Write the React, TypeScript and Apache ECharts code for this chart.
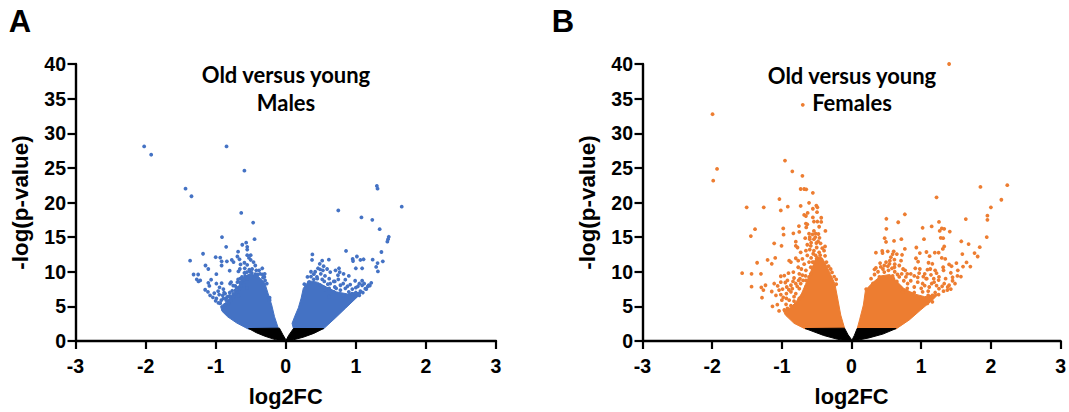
import React, { useEffect, useRef } from "react";
import * as echarts from "echarts";

const BLUE = "#4472C4";
const ORANGE = "#ED7D31";

const xTicks = [-3, -2, -1, 0, 1, 2, 3];
const yTicks = [0, 5, 10, 15, 20, 25, 30, 35, 40];

// Individually readable points (log2FC, -log p).
const malePointsLeft = [
  [-2.02,28.1],[-1.92,26.9],[-0.845,28.1],[-0.59,24.6],[-1.43,22.0],[-1.345,20.9],[-0.635,18.5],[-0.465,17.1],
  [-0.91,15.0],[-0.445,14.7],[-0.85,13.6],[-0.62,13.9],[-0.565,14.2],[-0.55,13.6],[-0.55,13.2],[-0.68,12.9],
  [-1.18,12.6],[-1.0,12.1],[-0.935,12.05],[-0.69,12.2],[-0.55,12.4],[-0.5,12.4],[-0.915,11.5],[-0.84,11.5],
  [-0.77,11.7],[-0.745,11.4],[-0.66,11.8],[-0.525,12.0],[-0.5,11.7],[-1.365,11.6],[-1.145,10.9],[-1.105,10.4],
  [-0.915,10.9],[-0.645,11.05],[-0.59,11.3],[-0.55,11.0],[-0.46,11.4],[-0.435,10.9],[-0.675,10.05],[-0.655,10.4],
  [-0.585,10.5],[-0.8,10.15],[-0.335,10.5],[-0.99,9.65],[-1.315,9.6],[-1.25,9.6],[-1.27,8.9],[-1.245,8.6],
  [-1.22,8.75],[-1.065,8.85],[-1.105,8.4],[-1.09,7.95],[-0.99,8.3],[-0.915,8.35],[-0.945,7.75],[-0.795,8.3],
  [-0.78,8.5],[-0.69,8.5],[-0.72,7.95],[-1.15,7.4],[-1.11,7.1],[-0.965,7.2],[-0.89,7.5],[-0.765,7.25],
  [-1.08,6.6],[-1.04,6.3],[-0.99,6.15],[-0.865,6.85],[-0.83,6.4],[-0.935,5.45],[-0.625,9.25],[-0.59,9.85],
  [-0.555,9.95],[-0.515,10.05],[-0.485,9.85],[-0.435,9.65],[-0.4,9.6],[-0.365,9.7],[-0.325,9.15],[-0.295,8.75],
  [-0.27,8.3],[-0.305,9.25],[-0.65,9.0],[-0.65,8.45],[-0.6,8.05],[-0.555,7.65],[-0.7,7.1],[-0.675,6.6],
  [-0.745,6.4],[-0.79,5.9],[-0.815,5.45],[-0.89,6.15],[-0.865,5.2],[-0.23,6.25],[-0.23,5.9],
  [-1.0,5.8],[-0.96,5.5],[-1.02,6.9],[-0.95,6.7],[-0.9,6.6],[-0.85,6.2],[-0.8,7.0],[-0.75,6.8],
  [-0.7,7.7],[-0.75,8.0],[-0.68,8.9],[-0.62,8.7],[-0.58,9.4],[-0.52,10.3],[-0.48,10.4],[-0.42,10.2],
  [-0.38,10.2],[-0.33,9.6],[-0.3,9.7],[-0.85,5.9],[-0.92,5.9],[-0.88,7.0],[-0.8,6.5],[-0.72,7.3],
  [-0.66,7.6],[-0.6,8.9],[-0.55,9.0],
];
const malePointsRight = [
  [1.3,22.4],[1.31,22.0],[1.655,19.4],[0.75,18.85],[1.08,17.85],[1.235,17.5],[1.34,16.15],[1.47,15.05],
  [1.46,14.7],[1.45,14.35],[0.86,13.0],[1.365,12.85],[0.38,12.5],[0.375,11.7],[0.52,11.6],[0.615,11.75],
  [1.015,12.2],[0.955,11.85],[0.96,11.55],[1.065,11.7],[1.11,11.8],[1.24,11.75],[1.385,11.5],[1.31,11.25],
  [1.29,10.7],[1.315,10.05],[1.0,10.5],[1.09,10.5],[0.485,11.15],[0.54,10.8],[0.46,10.5],[0.49,10.35],
  [0.53,10.2],[0.59,10.4],[0.635,9.95],[0.71,10.2],[0.76,10.5],[0.77,9.95],[0.745,9.5],[0.825,9.7],
  [0.9,9.4],[0.4,9.65],[0.31,9.25],[0.445,9.25],[0.52,8.9],[0.4,8.9],[0.33,8.5],[0.265,8.2],
  [0.49,8.05],[0.635,8.3],[0.685,8.6],[0.78,8.05],[0.85,8.85],[0.92,8.15],[0.99,8.7],[1.09,8.7],
  [1.22,8.4],[1.185,8.05],[1.09,8.05],[1.03,7.9],[1.135,7.55],[0.945,6.85],[0.78,7.35],[0.685,7.1],
  [0.565,7.35],[0.615,6.4],[0.825,6.6],[1.065,7.2],[0.995,6.4],
  [1.05,6.6],[1.1,7.0],[1.15,7.5],[1.2,8.0],[1.0,7.0],[0.9,7.1],[0.85,7.6],[0.95,7.5],
  [0.7,7.8],[0.6,8.2],[0.55,8.6],[0.45,9.0],[0.36,9.3],[0.36,10.0],[0.42,10.0],[0.5,9.7],
  [0.56,9.4],[0.62,9.0],[0.7,8.6],[0.75,8.9],[0.82,8.3],[0.88,7.9],[1.0,7.7],[1.05,8.3],
  [1.12,8.3],[1.17,7.9],[0.55,7.7],[0.62,7.6],[0.72,7.6],
];
const femalePointsLeft = [
  [-1.995,32.75],[-1.93,24.85],[-1.985,23.15],[-0.955,26.05],[-0.85,24.5],[-0.705,23.85],[-0.73,21.95],[-0.68,21.95],
  [-0.65,21.9],[-0.555,21.4],[-1.035,20.5],[-1.505,19.3],[-1.26,19.3],[-1.015,18.85],[-0.915,19.4],[-0.73,19.5],
  [-0.61,19.95],[-0.505,19.55],[-0.49,19.3],[-0.555,19.1],[-0.495,18.6],[-0.63,18.5],[-0.68,18.2],[-0.655,18.05],
  [-0.555,17.85],[-0.435,17.8],[-0.54,17.25],[-0.49,17.25],[-0.435,17.2],[-0.465,16.5],[-0.655,16.95],[-0.635,16.85],
  [-0.65,16.4],[-0.755,16.6],[-0.75,15.75],[-0.835,15.55],[-0.98,16.25],[-0.975,15.35],[-1.385,16.15],[-1.445,15.15],
  [-0.375,15.9],[-0.61,15.5],[-0.54,15.9],[-0.515,15.5],[-0.475,15.45],[-0.56,15.4],[-0.665,14.85],[-0.6,14.7],
  [-0.54,14.7],[-1.11,14.1],[-1.005,13.75],[-0.8,14.35],[-0.8,13.75],[-0.775,13.5],[-0.635,13.9],[-0.585,13.75],
  [-0.505,14.15],[-0.445,14.1],[-0.38,13.65],[-0.655,13.05],[-0.54,13.05],[-0.465,12.8],[-0.395,13.05],[-0.73,12.8],
  [-0.635,12.35],[-0.515,12.35],[-1.095,12.0],[-1.205,11.7],[-1.145,11.15],[-1.355,11.3],[-0.895,11.6],[-0.87,11.4],
  [-0.8,11.95],[-0.765,11.6],[-0.765,10.65],[-0.705,11.85],[-0.56,11.4],[-1.57,9.8],[-1.435,9.7],[-1.3,9.7],
  [-1.435,7.85],[-1.295,7.75],[-1.235,8.05],[-1.265,7.35],[-1.285,6.25],[-1.145,7.15],[-1.11,8.3],[-1.06,7.95],
  [-1.015,9.35],[-0.965,9.45],[-0.905,9.8],[-0.835,9.95],[-0.75,9.7],[-1.015,8.5],[-0.92,8.75],[-0.825,9.1],
  [-0.76,8.75],[-0.655,10.2],[-0.585,9.7],[-0.695,8.75],[-1.085,6.6],[-1.015,6.7],[-1.135,5.0],[-1.065,5.25],
  [-1.0,5.9],[-0.935,6.85],[-0.85,7.55],[-0.895,5.9],[-0.825,6.4],[-1.04,4.35],[-0.965,4.5],[-0.75,7.55],
  [-0.655,7.8],[-0.99,7.5],[-0.93,7.8],
  [-0.92,4.7],[-0.87,5.1],[-0.94,5.3],[-0.825,5.75],[-0.75,6.15],[-0.705,6.6],[-0.8,6.85],[-0.87,7.1],
  [-0.935,6.15],[-0.73,8.3],[-0.655,8.75],[-0.61,9.25],[-0.705,9.5],[-0.8,8.3],[-0.87,8.05],[-0.95,8.45],
  [-1.04,7.35],[-0.585,10.65],[-0.61,11.4],[-0.54,11.4],[-0.58,12],[-0.5,11.9],[-0.55,12.6],[-0.45,12.4],
  [-0.6,13.2],[-0.5,13.5],[-0.42,13.4],[-0.58,14.2],[-0.48,14.4],[-0.52,15],[-0.46,14.9],[-0.6,15],
  [-0.45,11.8],[-0.38,12.3],[-0.36,11.4],[-0.33,10.8],[-0.3,10.4],[-0.28,9.9],[-0.25,9.3],[-0.22,8.9],
  [-0.22,8.2],[-0.72,10.4],[-0.68,11.1],[-0.66,9.4],[-0.74,9.0],[-0.78,7.9],[-0.84,8.6],[-0.9,7.4],[-0.98,6.3],
];
const femalePointsRight = [
  [1.85,22.25],[2.235,22.5],[1.22,20.75],[2.15,20.4],[2.0,19.3],[1.95,18.1],[1.95,17.5],[1.64,17.6],
  [0.765,18.3],[0.5,17.65],[0.67,17.15],[1.255,17.2],[0.5,16.2],[1.02,16.35],[1.15,16.55],[1.265,15.9],
  [1.295,16.25],[1.33,16.2],[1.41,15.8],[0.475,14.85],[0.495,14.3],[0.61,14.45],[0.715,14.7],[1.04,14.7],
  [1.28,14.9],[1.315,14.85],[1.94,15.0],[1.575,14.4],[1.68,14.0],[1.84,13.55],[1.33,13.65],[1.31,13.3],
  [0.765,13.3],[0.93,13.5],[0.35,12.75],[0.44,13.0],[0.445,12.7],[0.52,12.95],[0.605,12.95],[0.59,12.55],
  [0.65,12.55],[0.725,12.45],[0.98,12.7],[1.075,12.85],[1.195,12.75],[1.25,12.75],[1.59,12.55],[1.765,12.7],
  [1.81,12.2],[0.925,11.95],[0.955,11.45],[1.12,12.25],[1.105,11.3],[1.295,12.0],[1.345,11.85],[1.505,11.25],
  [1.65,11.35],[1.6,10.75],[1.705,10.75],[0.565,12.1],[0.615,11.75],[0.71,11.6],[0.495,11.4],[0.545,11.15],
  [0.41,11.25],[0.35,10.55],[0.33,10.35],[0.615,10.65],[0.685,10.9],[0.915,10.5],[0.77,10.2],[0.85,9.7],
  [0.97,9.8],[1.09,10.3],[1.13,10.4],[1.16,11.15],[1.315,10.65],[1.4,11.05],[1.435,10.8],[1.32,10.2],
  [1.425,9.85],[1.525,10.2],[1.57,9.3],[1.52,9.4],[1.255,9.25],[1.14,9.55],[1.07,9.0],[0.95,8.5],
  [1.02,8.3],[1.185,8.5],[1.33,8.3],[1.485,8.3],[1.4,8.05],[1.425,7.5],[1.375,7.35],[1.255,7.55],
  [1.115,7.8],[1.02,7.1],[0.9,7.8],[0.805,8.3],[0.685,9.25],[0.59,9.4],[0.78,9.25],[0.47,9.95],
  [0.4,9.25],[0.305,8.3],[0.21,7.5],[0.855,6.85],[0.735,7.1],[1.16,6.6],[0.995,6.15],[1.16,5.65],
  [1.09,5.45],
  [1.25,6.7],[1.32,7.2],[1.2,7.0],[1.1,6.6],[1.1,7.2],[1.0,7.6],[0.9,7.0],[0.8,7.6],
  [0.7,7.7],[0.65,8.6],[0.6,9.0],[0.75,8.7],[0.85,8.7],[0.95,9.2],[1.05,8.0],[1.15,8.3],
  [1.22,8.0],[1.3,7.9],[1.38,7.8],[1.45,8.7],[1.35,9.0],[1.25,8.8],[1.18,9.0],[1.45,9.2],
  [1.05,9.7],[0.9,9.4],[0.8,9.7],[0.72,9.7],[0.62,10],[0.53,10.2],[0.45,10.4],[0.38,10.0],
  [0.33,9.6],[0.28,9.0],[0.52,10.8],[0.42,10.7],[0.55,11.6],[0.47,10.9],[0.62,11.1],[0.58,10.5],
  [0.66,9.6],[0.74,10.4],[0.98,10.4],[1.03,9.3],[1.22,9.8],[1.2,10.2],[1.08,9.0],
];
const femaleTopPoints = [[1.4,40],[-0.7,34.1]];

// The overplotted cores are traced as outlines: their individual dots cannot be read from the picture.
const maleCoreLeft = [[-0.53,1.7],[-0.7,2.6],[-0.83,3.5],[-0.91,4.3],[-0.93,5.0],[-0.85,5.6],[-0.78,6.5],[-0.7,7.3],[-0.65,8.4],[-0.6,9.2],[-0.52,9.7],[-0.4,9.4],[-0.3,8.4],[-0.25,6.8],[-0.2,5.2],[-0.16,3.5],[-0.105,1.8]];
const maleCoreRight = [[0.11,1.76],[0.09,2.55],[0.13,3.6],[0.18,4.8],[0.22,6.2],[0.25,7.6],[0.33,8.7],[0.45,8.5],[0.58,7.8],[0.72,7.1],[0.88,6.8],[0.98,7.0],[1.08,7.0],[1.0,6.15],[0.85,4.7],[0.705,3.3],[0.54,1.76]];
const femaleCoreLeft = [[-0.665,1.75],[-0.825,2.55],[-0.95,3.75],[-0.98,4.4],[-0.88,4.8],[-0.8,5.6],[-0.72,6.8],[-0.66,8.2],[-0.6,9.6],[-0.55,11],[-0.5,12.2],[-0.42,12.0],[-0.36,10.9],[-0.3,9.6],[-0.24,8.3],[-0.2,6.2],[-0.155,3.75],[-0.1,1.85]];
const femaleCoreRight = [[0.08,1.75],[0.115,3.05],[0.17,5.2],[0.2,7.35],[0.3,8.4],[0.42,9.4],[0.55,9.6],[0.65,8.6],[0.75,7.6],[0.9,6.8],[1.05,6.4],[1.25,6.8],[1.16,5.9],[0.995,4.5],[0.83,3.05],[0.64,1.75]];
const maleBlackLeft = [[-0.53,1.8],[-0.09,1.85],[-0.04,0.9],[0,0.2],[-0.05,0],[-0.15,0.2],[-0.3,0.7],[-0.42,1.2]];
const maleBlackRight = [[0.11,1.8],[0.54,1.8],[0.4,1.1],[0.25,0.55],[0.1,0.15],[0,0],[0.04,0.8]];
const femaleBlackLeft = [[-0.665,1.8],[-0.1,1.85],[-0.05,0.9],[0,0.2],[-0.05,0],[-0.2,0.25],[-0.4,0.8]];
const femaleBlackRight = [[0.08,1.8],[0.64,1.8],[0.45,1.0],[0.25,0.45],[0.08,0.1],[0,0],[0.04,0.8]];

const axisFont = { fontFamily: "Liberation Sans", fontWeight: "bold" as const, color: "#000" };

function polygonSeries(idx: number, outline: number[][], color: string, z: number) {
  return {
    type: "custom",
    xAxisIndex: idx,
    yAxisIndex: idx,
    coordinateSystem: "cartesian2d",
    z,
    silent: true,
    data: [outline[0]],
    renderItem: (_p: any, api: any) => ({
      type: "polygon",
      shape: { points: outline.map((v) => api.coord(v)) },
      style: { fill: color, stroke: color, lineWidth: 1 },
    }),
  };
}

function scatterSeries(idx: number, data: number[][], color: string) {
  return {
    type: "scatter",
    xAxisIndex: idx,
    yAxisIndex: idx,
    symbol: "circle",
    symbolSize: 3.8,
    z: 3,
    silent: true,
    data,
    itemStyle: { color, opacity: 1 },
  };
}

function xAxis(gridIndex: number) {
  return {
    gridIndex,
    type: "value",
    min: xTicks[0],
    max: xTicks[xTicks.length - 1],
    interval: 1,
    splitLine: { show: false },
    axisLine: { show: true, onZero: false, lineStyle: { color: "#000", width: 2.4 } },
    axisTick: { show: true, length: 8, lineStyle: { color: "#000", width: 2.2 } },
    axisLabel: { ...axisFont, fontSize: 19.5, margin: 15, showMinLabel: true, showMaxLabel: true },
    name: "log2FC",
    nameLocation: "middle",
    nameGap: 44,
    nameTextStyle: { ...axisFont, fontSize: 21.8 },
  };
}

function yAxis(gridIndex: number) {
  return {
    gridIndex,
    type: "value",
    min: yTicks[0],
    max: yTicks[yTicks.length - 1],
    interval: 5,
    splitLine: { show: false },
    axisLine: { show: true, onZero: false, lineStyle: { color: "#000", width: 2.4 } },
    axisTick: { show: true, length: 8, lineStyle: { color: "#000", width: 2.2 } },
    axisLabel: { ...axisFont, fontSize: 19.5, margin: 9.5, showMinLabel: true, showMaxLabel: true },
    name: "-log(p-value)",
    nameLocation: "middle",
    nameGap: 44,
    nameTextStyle: { ...axisFont, fontSize: 22.4 },
  };
}

function label(text: string, x: number, y: number, font: string) {
  return {
    type: "text",
    x,
    y,
    style: { text, font, fill: "#000", textAlign: "center", textVerticalAlign: "middle" },
  };
}

export default function App() {
  const ref = useRef<HTMLDivElement>(null);
  useEffect(() => {
    document.body.style.margin = "0";
    const chart = echarts.init(ref.current!, null, { renderer: "svg" });
    const titleFont = "bold 22px Lato";
    const panelFont = "bold 31px 'Liberation Sans'";
    chart.setOption({
      animation: false,
      backgroundColor: "#fff",
      grid: [
        { left: 75.5, top: 64, width: 420.5, height: 280 },
        { left: 642.5, top: 64, width: 420, height: 280 },
      ],
      xAxis: [xAxis(0), xAxis(1)],
      yAxis: [yAxis(0), yAxis(1)],
      series: [
        polygonSeries(0, maleCoreLeft, BLUE, 2),
        polygonSeries(0, maleCoreRight, BLUE, 2),
        scatterSeries(0, malePointsLeft, BLUE),
        scatterSeries(0, malePointsRight, BLUE),
        polygonSeries(0, maleBlackLeft, "#000", 4),
        polygonSeries(0, maleBlackRight, "#000", 4),
        polygonSeries(1, femaleCoreLeft, ORANGE, 2),
        polygonSeries(1, femaleCoreRight, ORANGE, 2),
        scatterSeries(1, femalePointsLeft, ORANGE),
        scatterSeries(1, femalePointsRight, ORANGE),
        scatterSeries(1, femaleTopPoints, ORANGE),
        polygonSeries(1, femaleBlackLeft, "#000", 4),
        polygonSeries(1, femaleBlackRight, "#000", 4),
      ],
      graphic: [
        label("A", 20, 21, panelFont),
        label("B", 563, 21, panelFont),
        label("Old versus young", 286, 74, titleFont),
        label("Males", 286, 102, titleFont),
        label("Old versus young", 852, 75, titleFont),
        label("Females", 852, 102, titleFont),
      ],
    });
    return () => chart.dispose();
  }, []);
  return <div ref={ref} style={{ width: 1069, height: 412 }} />;
}
